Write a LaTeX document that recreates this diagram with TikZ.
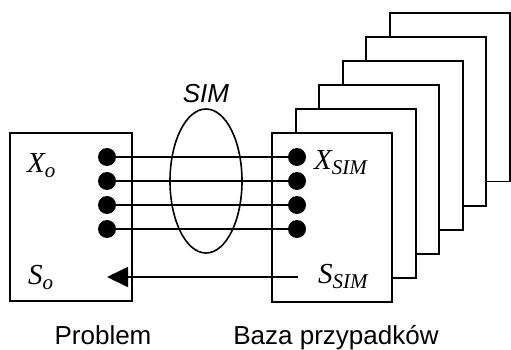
\documentclass[tikz,border=0pt]{standalone}
\usepackage{fontspec}
\setmainfont{Liberation Serif}
\setsansfont{Liberation Sans}
\usetikzlibrary{shapes.geometric,arrows.meta}

% italic symbol with a lowered italic subscript
\newcommand\symsub[2]{{\itshape #1}\raisebox{-5pt}{\fontsize{21}{21}\selectfont\itshape #2}}

\begin{document}
\begin{tikzpicture}[x=1pt,y=-1pt,
  frame/.style={draw, line width=1.9pt, fill=white, inner sep=0pt},
  dotnode/.style={circle, fill=black, inner sep=0pt, minimum size=18pt},
  wire/.style={line width=1.8pt},
  symlabel/.style={anchor=base west, inner sep=0pt, font=\fontsize{29}{29}\selectfont},
  caption/.style={anchor=base, inner sep=0pt, font=\sffamily\fontsize{26}{26}\selectfont}]
\useasboundingbox (0,0) rectangle (511,350);

% stack of case records behind the front one
\foreach \k in {5,4,3,2,1} {
  \draw[line width=1.9pt, fill=white]
    (272+23.6*\k, 133-24*\k) rectangle (392+23.6*\k, 302-24.1*\k);
}

% the two main frames
\node[frame, minimum width=122pt, minimum height=168pt] (problem) at (71,217) {};
\node[frame, minimum width=120pt, minimum height=169pt] (case) at (332,217.5) {};

% similarity ellipse
\node[ellipse, draw, line width=1.6pt, minimum width=72pt, minimum height=144pt, inner sep=0pt] (sim) at (206,181) {};
\node[anchor=base, inner sep=0pt, font=\sffamily\itshape\fontsize{26}{26}\selectfont] (simlabel) at (206,103) {SIM};

% attribute dots and their connections
\foreach \i/\y in {1/157,2/181,3/205,4/229} {
  \node[dotnode] (l\i) at (107,\y) {};
  \node[dotnode] (r\i) at (297,\y) {};
  \draw[wire] (l\i) -- (r\i);
}

% solution transferred back to the problem
\coordinate (sfrom) at (298,277);
\coordinate (sto) at (107,277);
\draw[wire, -{Triangle[length=21pt,width=20pt]}] (sfrom) -- (sto);

% labels
\node[symlabel] (xo) at (27,172) {\symsub{X}{o}};
\node[symlabel] (so) at (28,284) {\symsub{S}{o}};
\node[symlabel] (xsim) at (314,169) {\symsub{X}{SIM}};
\node[symlabel] (ssim) at (318,283) {\symsub{S}{SIM}};

\node[caption] (cap1) at (103,344) {Problem};
\node[caption] (cap2) at (336,344) {Baza przypadków};
\end{tikzpicture}
\end{document}
